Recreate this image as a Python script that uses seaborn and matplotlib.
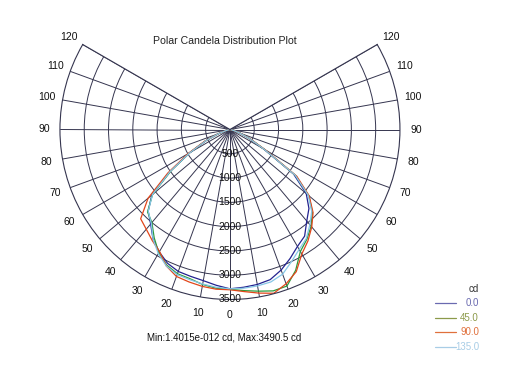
import numpy as np
import pandas as pd
import seaborn as sns
import matplotlib.pyplot as plt
from matplotlib.lines import Line2D

# angles from nadir, left side negative (degrees)
angles = list(range(-90, 91, 5))

cd_0 = [0, 0, 20, 80, 250, 550, 950, 1500, 2100, 2380, 2540, 2760, 2910, 3040, 3110, 3130, 3160, 3220,
        3280, 3260, 3240, 3200, 3080, 2930, 2780, 2680, 2460, 2300, 2050, 1600, 800, 450, 220, 80, 20, 0, 0]
cd_45 = [0, 0, 20, 80, 250, 560, 960, 1480, 2080, 2400, 2500, 2720, 2930, 3080, 3160, 3180, 3240, 3280,
         3290, 3330, 3380, 3440, 3430, 3200, 2900, 2760, 2600, 2400, 2120, 1650, 820, 460, 230, 80, 20, 0, 0]
cd_90 = [0, 0, 20, 90, 260, 580, 1000, 1560, 2200, 2600, 2680, 2790, 2900, 3100, 3220, 3250, 3280, 3300,
         3300, 3350, 3420, 3490.5, 3380, 3230, 2960, 2800, 2620, 2420, 2130, 1680, 840, 470, 230, 80, 20, 0, 0]
cd_135 = [0, 0, 20, 80, 250, 550, 950, 1500, 2080, 2380, 2520, 2760, 2950, 3100, 3180, 3200, 3230, 3260,
          3280, 3280, 3270, 3250, 3170, 3000, 2850, 2740, 2560, 2380, 2100, 1640, 810, 450, 220, 80, 20, 0, 0]

planes = ['0.0', '45.0', '90.0', '135.0']
colors = ['#23238f', '#2e9a3c', '#e2461a', '#86c6e6']
legend_colors = ['#6a6ab0', '#8c9a4a', '#e0703c', '#a8cde6']

ring_vals = [500, 1000, 1500, 2000, 2500, 3000, 3500]
theta_ticks = list(range(-120, 121, 10))

rows = []
for plane, vals in zip(planes, [cd_0, cd_45, cd_90, cd_135]):
    for a, v in zip(angles, vals):
        rows.append({'theta': np.deg2rad(a), 'cd': v, 'plane': plane})
df = pd.DataFrame(rows)

sns.set_style('white')
plt.rcParams['font.family'] = ['Liberation Sans', 'DejaVu Sans']

fig = plt.figure(figsize=(5.1, 3.8), dpi=100)
ax = fig.add_axes([3.3 / 510, 38 / 380, 453.3 / 510, 340 / 380], projection='polar')
ax.set_theta_zero_location('S')
ax.set_thetamin(-120)
ax.set_thetamax(120)
ax.set_ylim(0, 3500)

gc = '#35354f'
ax.set_rgrids(ring_vals[:-1], labels=[''] * 6)
ax.set_thetagrids(theta_ticks, labels=[str(abs(t)) for t in theta_ticks])
ax.grid(True, color=gc, lw=0.7)
for s in ax.spines.values():
    s.set_color(gc)
    s.set_linewidth(0.8)
ax.tick_params(axis='x', pad=1, labelsize=7.5, colors='#111111')

sns.lineplot(data=df, x='theta', y='cd', hue='plane', palette=dict(zip(planes, colors)),
             sort=False, estimator=None, lw=0.9, ax=ax, legend=False)
ax.set_xlabel('')
ax.set_ylabel('')

for r in ring_vals:
    ax.text(0, r, str(r), ha='center', va='center', fontsize=7.5, color='#111111')

fig.text(0.441, 1 - 41 / 380, 'Polar Candela Distribution Plot', ha='center', va='center',
         fontsize=7.6, color='#222222')
fig.text(147 / 510, 1 - 337 / 380, 'Min:1.4015e-012 cd, Max:3490.5 cd', ha='left', va='center',
         fontsize=7, color='#111111')

# legend
fig.text(479 / 510, 1 - 289 / 380, 'cd', ha='right', va='center', fontsize=7, color='#333333')
ys = [303, 318, 332, 347]
for p, c, lc, y in zip(planes, colors, legend_colors, ys):
    fig.add_artist(Line2D([435 / 510, 456 / 510], [1 - y / 380] * 2, color=lc, lw=0.9))
    fig.text(479 / 510, 1 - y / 380, p, ha='right', va='center', fontsize=7, color=lc)

fig.savefig('out.png', dpi=100, facecolor='white')
